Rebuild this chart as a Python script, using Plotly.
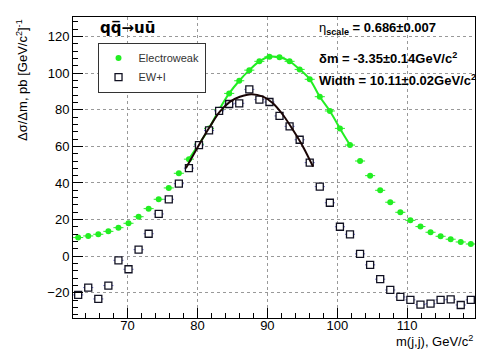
import plotly.graph_objects as go

# bin centres (GeV/c^2), 40 bins
mass = [62.94 + 1.44 * i for i in range(40)]
half_bin = [0.72] * 40

electroweak = [10.2, 11.1, 12.0, 13.6, 15.6, 18.0, 21.6, 26.0, 31.1, 37.3,
               45.3, 53.0, 61.2, 69.8, 80.0, 88.9, 95.8, 101.6, 106.4, 108.9,
               108.6, 106.4, 102.0, 96.6, 87.1, 79.3, 69.8, 60.7, 52.0, 44.0,
               36.0, 29.5, 24.0, 19.6, 16.2, 13.1, 10.9, 9.3, 7.8, 6.7]
electroweak_err = [0.8] * 40

ew_i = [-21.1, -17.1, -23.3, -16.0, -2.2, -7.1, 3.6, 12.3, 23.1, 31.1,
        39.6, 48.1, 60.7, 68.7, 79.4, 83.1, 83.5, 91.1, 85.5, 84.2,
        76.6, 70.9, 63.6, 51.1, 38.0, 29.2, 16.1, 12.0, 1.3, -4.7,
        -12.5, -18.4, -22.2, -23.8, -26.4, -25.9, -23.8, -23.5, -26.6, -23.8]
ew_i_err = [1.6] * 40

# fit curve of EW+I
fit_x = [78.34, 80.34, 81.77, 83.2, 84.63, 86.06, 87.73, 89.39, 90.8, 92.24, 93.67, 95.1, 96.53]
fit_y = [48.0, 61.6, 70.7, 78.9, 84.3, 87.1, 88.5, 87.1, 83.5, 77.1, 68.9, 59.8, 48.9]

GREEN = "#22ee22"
FONT = "Liberation Sans, Arial, Helvetica, sans-serif"

fig = go.Figure()

fig.add_trace(go.Scatter(
    x=mass, y=electroweak,
    mode="markers",
    name="Electroweak",
    marker=dict(symbol="circle", size=6, color=GREEN),
    error_x=dict(type="data", array=half_bin, color=GREEN, thickness=1, width=0),
    error_y=dict(type="data", array=electroweak_err, color=GREEN, thickness=1, width=0),
))

# green fit through the peak region
fig.add_trace(go.Scatter(
    x=mass[11:28], y=electroweak[11:28],
    mode="lines",
    line=dict(color=GREEN, width=2, shape="spline"),
    showlegend=False, hoverinfo="skip",
))

fig.add_trace(go.Scatter(
    x=mass, y=ew_i,
    mode="markers",
    name="EW+I",
    marker=dict(symbol="square", size=7, color="white", line=dict(width=1.3, color="#111122")),
    error_x=dict(type="data", array=half_bin, color="#6666cc", thickness=1, width=0),
    error_y=dict(type="data", array=ew_i_err, color="#6666cc", thickness=1, width=0),
))

fig.add_trace(go.Scatter(
    x=fit_x, y=fit_y,
    mode="lines",
    line=dict(color="#1a0505", width=2, shape="spline"),
    showlegend=False, hoverinfo="skip",
))

axis_common = dict(
    showline=True, linecolor="black", linewidth=1, mirror=True,
    ticks="inside", ticklen=10, tickcolor="black",
    showgrid=True, gridcolor="#999999", griddash="dot", gridwidth=1,
    zeroline=False,
    tickfont=dict(family=FONT, size=13, color="black"),
)

fig.update_xaxes(
    range=[62.2, 119.7], dtick=10, tick0=0, ticklabelstandoff=-5,
    minor=dict(dtick=2, ticks="inside", ticklen=5, tickcolor="black", showgrid=False),
    **axis_common,
)
fig.update_yaxes(
    range=[-33.7, 130.6], dtick=20, tick0=0,
    minor=dict(dtick=4, ticks="inside", ticklen=5, tickcolor="black", showgrid=False),
    **axis_common,
)

annotations = [
    dict(text="q<span>q\u0305</span>\u2192u\u016b", x=0.062, y=0.962, xanchor="left", yanchor="middle",
         font=dict(size=15, family="DejaVu Sans", color="black", weight="bold")),
    dict(text="\u03b7<sub><b>scale</b></sub><b> = 0.686\u00b10.007</b>", x=0.607, y=0.963,
         xanchor="left", yanchor="middle", font=dict(size=13, family=FONT, color="black")),
    dict(text="<b>\u03b4m = -3.35\u00b10.14GeV/c<sup>2</sup></b>", x=0.607, y=0.864,
         xanchor="left", yanchor="middle", font=dict(size=13, family=FONT, color="black")),
    dict(text="<b>Width = 10.11\u00b10.02GeV/c<sup>2</sup></b>", x=0.607, y=0.791,
         xanchor="left", yanchor="middle", font=dict(size=13, family=FONT, color="black")),
    dict(text="\u0394\u03c3/\u0394m, pb [GeV/c<sup>2</sup>]<sup>-1</sup>", x=-0.127, y=1.0,
         xanchor="center", yanchor="top", textangle=-90,
         font=dict(size=13, family=FONT, color="black")),
    dict(text="m(j,j), GeV/c<sup>2</sup>", x=1.0, y=-0.078, xanchor="right", yanchor="middle",
         font=dict(size=13, family=FONT, color="black")),
]
for a in annotations:
    a.update(xref="paper", yref="paper", showarrow=False)

# the page puts the plot 8 px in from the top-left corner
fig.update_layout(
    width=483, height=345,
    margin=dict(l=65, r=16, t=9, b=35),
    plot_bgcolor="white", paper_bgcolor="white",
    font=dict(family=FONT, color="black"),
    annotations=annotations,
    legend=dict(
        x=0.061, y=0.915, xanchor="left", yanchor="top",
        bordercolor="#333333", borderwidth=1, bgcolor="white",
        font=dict(size=11, family=FONT, color="#333333"),
        tracegroupgap=13, itemwidth=30,
    ),
    showlegend=True,
)

fig.write_html("out.html")
